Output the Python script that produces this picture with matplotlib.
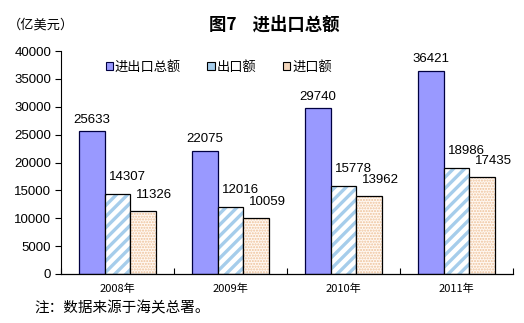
# Recreate "图7 进出口总额" grouped bar chart.
import matplotlib
matplotlib.use("Agg")
import matplotlib.pyplot as plt
import numpy as np

plt.rcParams['font.family'] = ['Noto Sans CJK SC', 'DejaVu Sans']

# Data
years = ["2008年", "2009年", "2010年", "2011年"]
total = [25633, 22075, 29740, 36421]
exports = [14307, 12016, 15778, 18986]
imports = [11326, 10059, 13962, 17435]
series_names = ["进出口总额", "出口额", "进口额"]

fig = plt.figure(figsize=(5.24, 3.23), dpi=100)
ax = fig.add_axes([61 / 524, 1 - 274 / 323, 452 / 524, 223 / 323])

x = np.arange(len(years))
w = 0.226
num_font = {"family": ["Liberation Sans", "DejaVu Sans"], "size": 9.5}

# total bars
ax.bar(x - w, total, w, color="#9999FF", edgecolor="#000040", linewidth=0.9,
       label=series_names[0])

# exports: blue diagonal stripes
plt.rcParams['hatch.linewidth'] = 2.4
ax.bar(x, exports, w, color="white", edgecolor="#A6CDEB", hatch="///", linewidth=0)
ax.bar(x, exports, w, fill=False, edgecolor="black", linewidth=0.9)

# imports: fine peach dots
plt.rcParams['hatch.linewidth'] = 1.0
ax.bar(x + w, imports, w, color="#FFF8F2", edgecolor="#EEC29A", hatch="......",
       linewidth=0)
ax.bar(x + w, imports, w, fill=False, edgecolor="black", linewidth=0.9)

# value labels
for i in range(len(years)):
    ax.annotate(str(total[i]), (x[i] - w, total[i]), xytext=(0, 4),
                textcoords="offset points", ha="center", va="bottom", **num_font)
    ax.annotate(str(exports[i]), (x[i], exports[i]), xytext=(7, 8),
                textcoords="offset points", ha="center", va="bottom", **num_font)
    ax.annotate(str(imports[i]), (x[i] + w, imports[i]), xytext=(8, 7),
                textcoords="offset points", ha="center", va="bottom", **num_font)

ax.set_xlim(-0.5, len(years) - 0.5)
ax.set_ylim(0, 40000)
ax.set_yticks(range(0, 40001, 5000))
ax.set_yticklabels([str(v) for v in range(0, 40001, 5000)],
                   family=["Liberation Sans", "DejaVu Sans"], fontsize=9.5)
ax.tick_params(axis="y", direction="out", length=4, width=0.8, pad=3)

# category boundary ticks on x axis, labels centred
ax.set_xticks(np.arange(-0.5, len(years)), minor=False)
ax.set_xticklabels([])
ax.tick_params(axis="x", direction="in", length=4, width=0.8)
ax.set_xticks(x, minor=True)
ax.set_xticklabels(years, minor=True, fontsize=8)
ax.tick_params(axis="x", which="minor", length=0, pad=7)

for s in ["top", "right"]:
    ax.spines[s].set_visible(False)
ax.spines["left"].set_linewidth(0.8)
ax.spines["bottom"].set_linewidth(0.9)

# legend
handles = [
    plt.Rectangle((0, 0), 1, 1, facecolor="#9999FF", edgecolor="#000040", linewidth=0.8),
    plt.Rectangle((0, 0), 1, 1, facecolor="#A6CDEB", edgecolor="black", linewidth=0.8),
    plt.Rectangle((0, 0), 1, 1, facecolor="#F3D6BC", edgecolor="black", linewidth=0.8),
]
fig.legend(handles, series_names, loc="center left", bbox_to_anchor=(99 / 524, 1 - 67 / 323),
           ncol=3, frameon=False, fontsize=9.5, handlelength=0.55, handleheight=0.55,
           handletextpad=0.15, columnspacing=2.0, borderpad=0)

fig.text(8 / 524, 1 - 25 / 323, "（亿美元）", fontsize=9.5, va="center", ha="left")
fig.text(274 / 524, 1 - 25 / 323, "图7    进出口总额", fontsize=12.5, fontweight="bold",
         va="center", ha="center")
fig.text(34 / 524, 1 - 308 / 323, "注：数据来源于海关总署。", fontsize=10.5, va="center", ha="left")

fig.savefig("out.png", dpi=100, facecolor="white")
